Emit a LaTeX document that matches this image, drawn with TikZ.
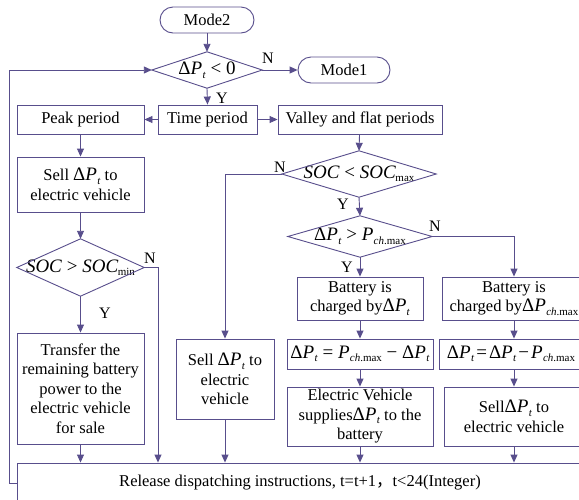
\documentclass[tikz,border=0pt]{standalone}
\usepackage{fontspec}
\setmainfont{Liberation Serif}
\newfontfamily\cjk{Noto Sans CJK SC}
\usetikzlibrary{arrows.meta}
\definecolor{lc}{RGB}{88,78,140}
\newcommand\sbx[1]{\raisebox{-3.5pt}{\fontsize{11}{11}\selectfont #1}}
\newcommand\dP{{\fontsize{19}{19}\selectfont Δ\textit{P}}\kern0.3pt\sbx{\textit{t}}}
\newcommand\Pch{{\fontsize{19}{19}\selectfont \textit{P}}\kern0.3pt\sbx{\textit{ch}.max}}
\newcommand\SOCx{\textit{SOC}}
\begin{document}
\begin{tikzpicture}[x=1pt,y=-1pt,
  box/.style={draw=lc, line width=0.9pt, fill=white, rectangle, inner sep=1pt, align=center, font=\fontsize{16.5}{19.5}\selectfont},
  term/.style={box, rounded corners=13pt},
  eqbox/.style={box, font=\fontsize{19}{20}\selectfont},
  dtext/.style={rectangle, inner sep=0pt, font=\fontsize{19}{20}\selectfont},
  lab/.style={font=\fontsize{16}{16}\selectfont, inner sep=0pt},
  ln/.style={draw=lc, line width=0.9pt},
  arr/.style={ln, -{Triangle[length=8pt,width=7pt]}}]
\useasboundingbox (0,0) rectangle (579,499);
\clip (0,0) rectangle (579,499);
\fill[white] (0,0) rectangle (579,499);
% terminals
\node[term, minimum width=94pt, minimum height=26pt] (mode2) at (207,20) {Mode2};
\node[term, minimum width=92pt, minimum height=26pt] (mode1) at (344,70) {Mode1};
% diamonds (text holders)
\node[dtext, minimum width=110pt, minimum height=36pt] (d1) at (207,70) {\dP{} < 0};
\node[dtext, minimum width=127pt, minimum height=57pt] (d2) at (80.5,267.5) {\SOCx{} > \SOCx\kern-0.5pt\sbx{min}};
\node[dtext, minimum width=154pt, minimum height=46pt] (d3) at (359,174) {\SOCx{} < \SOCx\kern-0.5pt\sbx{max}};
\node[dtext, minimum width=144pt, minimum height=41pt] (d4) at (360,236.5) {\dP{} > \Pch};
\foreach \n in {d1,d2,d3,d4}
  \draw[ln] (\n.north) -- (\n.east) -- (\n.south) -- (\n.west) -- cycle;
% boxes
\node[box, minimum width=99pt, minimum height=29pt] (time) at (207.5,119.5) {Time period};
\node[box, minimum width=127pt, minimum height=29pt] (peak) at (80.5,119.5) {Peak period};
\node[box, minimum width=164pt, minimum height=29pt] (valley) at (360,119.5) {Valley and flat periods};
\node[box, minimum width=127pt, minimum height=55pt] (sell1) at (80.5,184.5) {Sell \dP{} to\\electric vehicle};
\node[box, minimum width=127pt, minimum height=111pt] (transfer) at (80.5,388.5) {Transfer the\\remaining battery\\power to the\\electric vehicle\\for sale};
\node[box, minimum width=98pt, minimum height=80pt] (sell2) at (225,379) {Sell \dP{} to\\electric\\vehicle};
\node[box, minimum width=126pt, minimum height=43pt] (batt1) at (360,298.5) {Battery is\\charged by\dP};
\node[box, minimum width=144pt, minimum height=43pt] (batt2) at (514,298.5) {Battery is\\charged by{\fontsize{19}{19}\selectfont Δ}\Pch};
\node[eqbox, minimum width=146pt, minimum height=30pt] (eq1) at (360,354) {\dP{} = \Pch{} − \dP};
\node[eqbox, minimum width=144pt, minimum height=30pt] (eq2) at (511,354) {\dP\kern2pt=\kern2pt\dP\kern2pt−\kern2pt\Pch};
\node[box, minimum width=146pt, minimum height=59pt] (ev) at (360,416.5) {Electric Vehicle\\supplies\dP{} to the\\battery};
\node[box, minimum width=140pt, minimum height=59pt] (sell3) at (514,416.5) {Sell\dP{} to\\electric vehicle};
\node[box, minimum width=566pt, minimum height=40pt] (bottom) at (300,483) {Release dispatching instructions, t=t+1{\cjk ，}t<24(Integer)};
% labels
\node[lab] (n1) at (268,58) {N};
\node[lab] (y1) at (222,98) {Y};
\node[lab] (n2) at (150,258) {N};
\node[lab] (y2) at (105,313) {Y};
\node[lab] (n3) at (280,167) {N};
\node[lab] (y3) at (343,204) {Y};
\node[lab] (n4) at (435,226) {N};
\node[lab] (y4) at (347,267) {Y};
\coordinate (c2) at (158,0);
\coordinate (c5) at (514,0);
% connectors
\draw[arr] (mode2) -- (d1.north);
\draw[arr] (d1.east) -- (mode1.west);
\draw[arr] (d1.south) -- (time.north);
\draw[arr] (time.west) -- (peak.east);
\draw[arr] (time.east) -- (valley.west);
\draw[arr] (peak) -- (sell1);
\draw[arr] (sell1) -- (d2.north);
\draw[arr] (d2.south) -- (transfer.north);
\draw[arr] (d2.east) -| (c2 |- bottom.north);
\draw[arr] (valley) -- (d3.north);
\draw[arr] (d3.south) -- (d4.north);
\draw[arr] (d3.west) -| (sell2.north);
\draw[arr] (d4.south) -- (batt1.north);
\draw[arr] (d4.east) -| (batt2.north);
\draw[arr] (batt1) -- (eq1);
\draw[arr] (eq1) -- (ev);
\draw[arr] (c5 |- batt2.south) -- (c5 |- eq2.north);
\draw[arr] (c5 |- eq2.south) -- (c5 |- sell3.north);
\draw[arr] (transfer.south) -- (transfer.south |- bottom.north);
\draw[arr] (sell2.south) -- (sell2.south |- bottom.north);
\draw[arr] (ev.south) -- (ev.south |- bottom.north);
\draw[arr] (sell3.south) -- (sell3.south |- bottom.north);
\draw[arr] (bottom.west) -- ++(-7,0) |- (d1.west);
\end{tikzpicture}
\end{document}
